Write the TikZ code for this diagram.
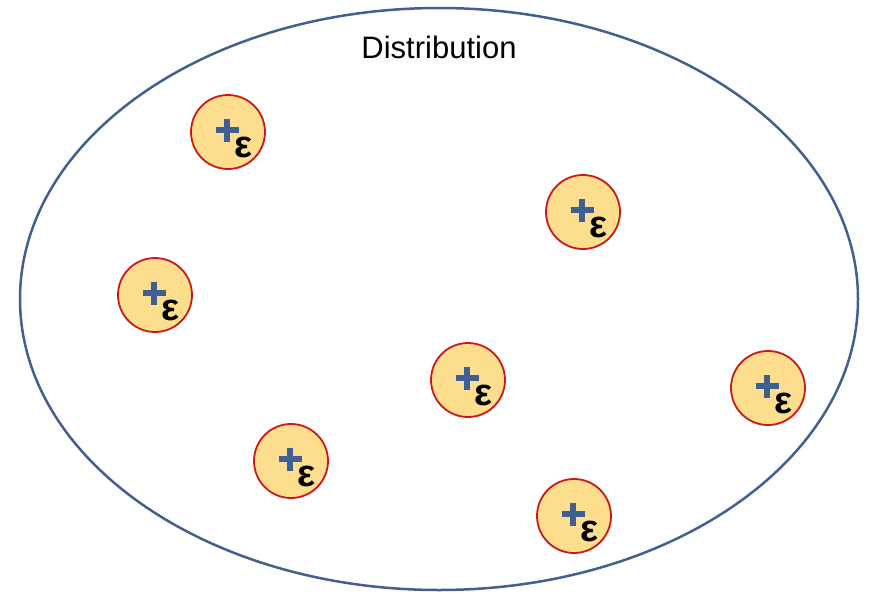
\documentclass[tikz,border=0pt]{standalone}
\usepackage{fontspec}
\setmainfont{Liberation Sans}
\usetikzlibrary{shapes.geometric,calc}
\definecolor{ellc}{HTML}{41608F}
\definecolor{ptfill}{HTML}{FDDE8E}
\definecolor{ptdraw}{HTML}{CC1818}
\definecolor{plusc}{HTML}{3E5F92}
\begin{document}
\begin{tikzpicture}[x=1pt,y=-1pt,
  pt/.style={circle,draw=ptdraw,fill=ptfill,line width=1.8pt,minimum size=74pt,inner sep=0pt},
  pluss/.style={draw=plusc,line width=5.5pt},
  epss/.style={font=\fontsize{38}{38}\selectfont\bfseries,inner sep=0pt}]
\useasboundingbox (0,0) rectangle (876,595);
\node[ellipse,draw=ellc,line width=2.5pt,minimum width=838pt,minimum height=582pt,inner sep=0pt] (dist) at (439,299) {};
\node[font=\fontsize{31}{31}\selectfont] (title) at (439,47) {Distribution};
\foreach \n/\x/\y in {a/228/132, b/583/212, c/155/295, d/468/380, e/768/388, f/291/461, g/574/516}{
  \node[pt] (\n) at (\x,\y) {};
  \draw[pluss] ($(\n)+(-12.5,-2)$) -- ($(\n)+(10.5,-2)$);
  \draw[pluss] ($(\n)+(-1,-13.5)$) -- ($(\n)+(-1,9.5)$);
  \node[epss] (\n eps) at ($(\n)+(16,15)$) {ε};
}
\end{tikzpicture}
\end{document}
